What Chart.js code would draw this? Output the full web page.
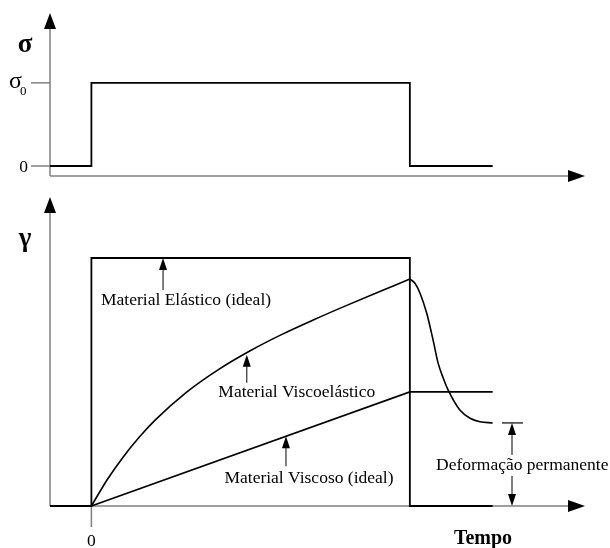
<!DOCTYPE html>
<html lang="pt">
<head>
<meta charset="utf-8">
<title>Fluência e recuperação</title>
<script src="https://cdn.jsdelivr.net/npm/chart.js@4.4.1/dist/chart.umd.min.js"></script>
<style>
  html, body { margin: 0; padding: 0; background: #fff; }
  #wrap { position: relative; width: 610px; height: 548px; }
  #wrap canvas { position: absolute; left: 0; }
</style>
</head>
<body>
<div id="wrap">
  <canvas id="tensao" width="610" height="190" style="top:0"></canvas>
  <canvas id="deformacao" width="610" height="368" style="top:180px"></canvas>
</div>
<script>
// tempo em unidades arbitrárias: 0 = aplicação da tensão, 10 = remoção
const tempoMin = -1.3;
const tempoMax = 15.5;

// tensão aplicada (sigma / sigma0)
const tensaoT = [-1.3, 0, 0, 10, 10, 12.6];
const tensaoV = [0, 0, 1, 1, 0, 0];

// deformação (gamma relativa à resposta elástica)
const elasticoT = [-1.3, 0, 0, 10, 10, 12.6];
const elasticoV = [0, 0, 1, 1, 0, 0];

const viscosoT = [0, 10, 12.6];
const viscosoV = [0, 0.46, 0.46];

// viscoelástico: fluência (0-10) e recuperação (10-12.6)
const fluenciaT = [0, 0.5, 1, 1.5, 2, 3, 4, 5, 6, 7, 8, 9, 10];
const fluenciaV = [0, 0.107, 0.198, 0.277, 0.346, 0.46, 0.551, 0.627, 0.693, 0.752, 0.808, 0.862, 0.915];
const recuperacaoT = [10, 10.16, 10.32, 10.53, 10.73, 10.89, 11.05, 11.2, 11.57, 11.89, 12.2, 12.6];
const recuperacaoV = [0.915, 0.898, 0.858, 0.777, 0.669, 0.575, 0.515, 0.468, 0.387, 0.354, 0.34, 0.335];

const cinza = '#808080';
const serif = '"Liberation Serif", "Times New Roman", serif';

function pontos(ts, vs) {
  return ts.map((t, i) => ({ x: t, y: vs[i] }));
}

function linha(ctx, x1, y1, x2, y2, cor, largura) {
  ctx.beginPath();
  ctx.strokeStyle = cor;
  ctx.lineWidth = largura;
  ctx.moveTo(x1, y1);
  ctx.lineTo(x2, y2);
  ctx.stroke();
}

function seta(ctx, x, y, dir, comp, meia) {
  ctx.beginPath();
  if (dir === 'cima') {
    ctx.moveTo(x, y); ctx.lineTo(x - meia, y + comp); ctx.lineTo(x + meia, y + comp);
  } else if (dir === 'baixo') {
    ctx.moveTo(x, y); ctx.lineTo(x - meia, y - comp); ctx.lineTo(x + meia, y - comp);
  } else {
    ctx.moveTo(x, y); ctx.lineTo(x - comp, y - meia); ctx.lineTo(x - comp, y + meia);
  }
  ctx.closePath();
  ctx.fillStyle = '#000';
  ctx.fill();
}

function texto(ctx, s, x, y, fonte, alinh, base) {
  ctx.font = fonte;
  ctx.fillStyle = '#000';
  ctx.textAlign = alinh || 'center';
  ctx.textBaseline = base || 'middle';
  ctx.fillText(s, x, y);
}

// eixos cinzentos com setas pretas
const eixos = {
  id: 'eixos',
  beforeDatasetsDraw(chart) {
    const { ctx, chartArea: a } = chart;
    ctx.save();
    linha(ctx, a.left, a.top + 14, a.left, a.bottom, cinza, 1.5);
    linha(ctx, a.left, a.bottom, a.right - 14, a.bottom, cinza, 1.5);
    seta(ctx, a.left, a.top, 'cima', 16, 6);
    seta(ctx, a.right, a.bottom, 'direita', 17, 6);
    ctx.restore();
  }
};

const escalaTensao = {
  id: 'escalaTensao',
  beforeDatasetsDraw(chart) {
    const { ctx, scales: { y }, chartArea: a } = chart;
    ctx.save();
    const y0 = y.getPixelForValue(0);
    const y1 = y.getPixelForValue(1);
    linha(ctx, a.left - 19, y1, a.left, y1, cinza, 1.5);
    linha(ctx, a.left - 19, y0, a.left, y0, cinza, 1.5);
    texto(ctx, '\u03C3', 9, y1 + 5, '24px ' + serif, 'left', 'alphabetic');
    texto(ctx, '0', 20, y1 + 12, '13px ' + serif, 'left', 'alphabetic');
    texto(ctx, '0', 28, y0 + 6, '17.5px ' + serif, 'right', 'alphabetic');
    texto(ctx, '\u03C3', 25, 52, 'bold 27px ' + serif, 'center', 'alphabetic');
    ctx.restore();
  }
};

const rotulos = [
  { s: 'Material Elástico (ideal)', t: 2.25, v: 1, comp: 32, dx: 23, dy: 42 },
  { s: 'Material Viscoelástico', t: 4.88, v: 0.61, comp: 28, dx: 50, dy: 38 },
  { s: 'Material Viscoso (ideal)', t: 6.11, v: 0.281, comp: 30, dx: 23, dy: 42 }
];

const escalaDeformacao = {
  id: 'escalaDeformacao',
  beforeDatasetsDraw(chart) {
    const { ctx, scales: { x }, chartArea: a } = chart;
    ctx.save();
    const x0 = x.getPixelForValue(0);
    linha(ctx, x0, a.bottom, x0, a.bottom + 21, cinza, 1.5);
    texto(ctx, '0', x0, a.bottom + 40, '17.5px ' + serif, 'center', 'alphabetic');
    texto(ctx, 'Tempo', 483, a.bottom + 38, 'bold 20px ' + serif, 'center', 'alphabetic');
    texto(ctx, '\u03B3', 25, 66, 'bold 27px ' + serif, 'center', 'alphabetic');
    ctx.restore();
  },
  afterDatasetsDraw(chart) {
    const { ctx, scales: { x, y } } = chart;
    ctx.save();
    rotulos.forEach(r => {
      const px = x.getPixelForValue(r.t);
      const py = y.getPixelForValue(r.v);
      linha(ctx, px, py + 10, px, py + r.comp, '#000', 1);
      seta(ctx, px, py, 'cima', 12, 4);
      texto(ctx, r.s, px + r.dx, py + r.dy, '17.5px ' + serif);
    });
    // deformação permanente
    const perm = recuperacaoV[recuperacaoV.length - 1];
    const yp = y.getPixelForValue(perm);
    const yz = y.getPixelForValue(0);
    const xp = 512;
    linha(ctx, xp - 10, yp, xp + 11, yp, '#000', 1.2);
    linha(ctx, xp, yp + 10, xp, yp + 32, '#000', 1);
    linha(ctx, xp, yz - 30, xp, yz - 10, '#000', 1);
    seta(ctx, xp, yp, 'cima', 12, 4);
    seta(ctx, xp, yz, 'baixo', 12, 4);
    texto(ctx, 'Deformação permanente', 436, (yp + yz) / 2 + 1, '17.5px ' + serif, 'left');
    ctx.restore();
  }
};

function serie(ts, vs, extra) {
  return Object.assign({
    data: pontos(ts, vs),
    borderColor: '#000',
    borderWidth: 1.8,
    pointRadius: 0,
    fill: false,
    clip: false,
    borderJoinStyle: 'miter'
  }, extra || {});
}

function criarGrafico(id, datasets, yMin, yMax, padding, extras) {
  return new Chart(document.getElementById(id), {
    type: 'line',
    data: { datasets },
    options: {
      responsive: false,
      animation: false,
      layout: { padding },
      plugins: { legend: { display: false }, tooltip: { enabled: false } },
      scales: {
        x: { type: 'linear', min: tempoMin, max: tempoMax, display: false },
        y: { type: 'linear', min: yMin, max: yMax, display: false }
      }
    },
    plugins: [eixos].concat(extras)
  });
}

criarGrafico('tensao',
  [serie(tensaoT, tensaoV, { label: 'Tensão' })],
  -0.12, 1.84,
  { left: 50, right: 25, top: 13, bottom: 14 },
  [escalaTensao]);

criarGrafico('deformacao',
  [
    serie(elasticoT, elasticoV, { label: 'Material Elástico (ideal)' }),
    serie(viscosoT, viscosoV, { label: 'Material Viscoso (ideal)', borderWidth: 1.6 }),
    serie(fluenciaT, fluenciaV, { label: 'Material Viscoelástico', borderWidth: 1.6, cubicInterpolationMode: 'monotone' }),
    serie(recuperacaoT, recuperacaoV, { label: 'Material Viscoelástico (recuperação)', borderWidth: 1.6, cubicInterpolationMode: 'monotone' })
  ],
  0, 1.246,
  { left: 50, right: 25, top: 17, bottom: 42 },
  [escalaDeformacao]);
</script>
</body>
</html>
